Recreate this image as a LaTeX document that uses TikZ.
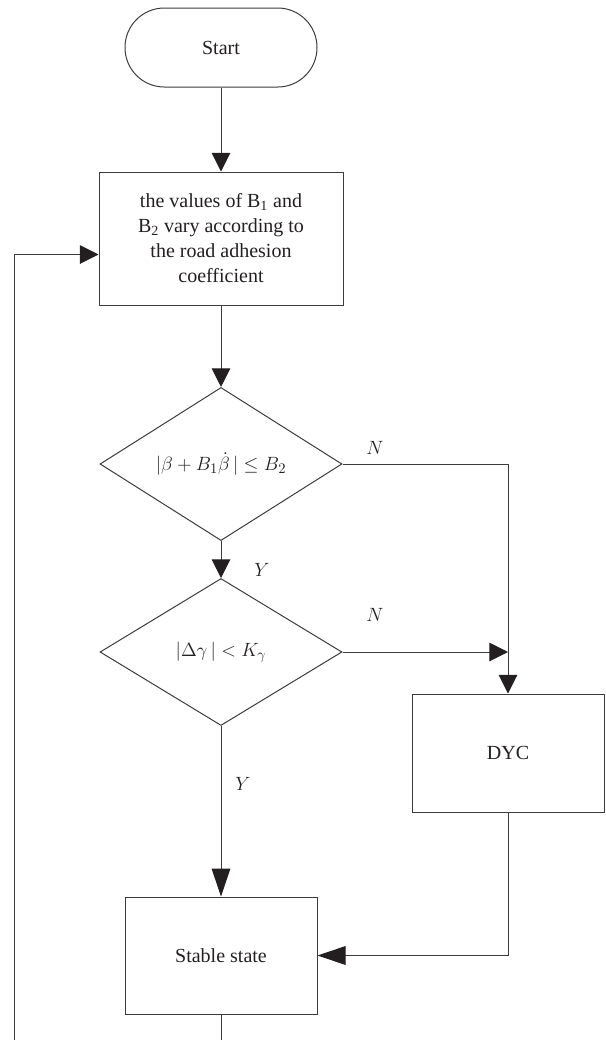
\documentclass[tikz,border=0pt]{standalone}
\usepackage{fontspec}
\setmainfont{Liberation Serif}
\usetikzlibrary{shapes.geometric,arrows.meta}
\definecolor{linegray}{RGB}{60,60,60}
\definecolor{tipblack}{RGB}{35,31,32}

\begin{document}
\begin{tikzpicture}[x=0.75pt, y=-0.75pt,
    every node/.style={font=\fontsize{15}{18.75}\selectfont, text=tipblack},
    wire/.style={draw=linegray, line width=0.75pt},
    flow/.style={wire, -{Triangle[length=14pt,width=14pt,color=tipblack]}},
    longflow/.style={wire, -{Triangle[length=21pt,width=14pt,color=tipblack]}},
    flowbox/.style={wire, minimum width=144pt, minimum height=88.5pt, inner sep=0pt},
    decision/.style={diamond, wire, minimum width=181.5pt, minimum height=110.25pt, inner sep=0pt}]
    \useasboundingbox (0,0) rectangle (606,1040);

    % blocks of the flow chart
    \node[wire, rounded corners=29.5pt, minimum width=144pt, minimum height=59.25pt] (start) at (221,47.5) {Start};
    \node[flowbox, minimum width=183pt, minimum height=99.75pt, align=center] (values) at (221,238.5)
        {the values of B\textsubscript{1} and\\ B\textsubscript{2} vary according to\\ the road adhesion\\ coefficient};
    \node[decision] (check1) at (221,464) {$|\beta + B_1\dot{\beta}\,| \leq B_2$};
    \node[decision] (check2) at (221,652) {$|\Delta\gamma\,| < K_\gamma$};
    \node[flowbox] (dyc) at (508,753) {DYC};
    \node[flowbox, minimum height=87.75pt] (stable) at (221,955.5) {Stable state};

    % branch labels
    \node (n1) at (375,448) {$N$};
    \node (n2) at (375,615) {$N$};
    \node (y1) at (262,570) {$Y$};
    \node (y2) at (243,784) {$Y$};

    % connectors
    \draw[flow] (start) -- (values);
    \draw[flow] (values) -- (check1);
    \draw[flow] (check1) -- (check2);
    \draw[flow] (check1.east) -| (dyc.north);
    \draw[flow] (check2.east) -- (check2.east -| dyc.north);
    \draw[longflow] (check2) -- (stable);
    \draw[longflow] (dyc.south) |- (stable.east);

    % loop back (cut at the lower edge)
    \coordinate (stableout) at (221,1040);
    \coordinate (loopout) at (14,1040);
    \draw[wire] (stable) -- (stableout);
    \draw[flow] (loopout) |- ([yshift=-12pt]values.west);
\end{tikzpicture}
\end{document}
